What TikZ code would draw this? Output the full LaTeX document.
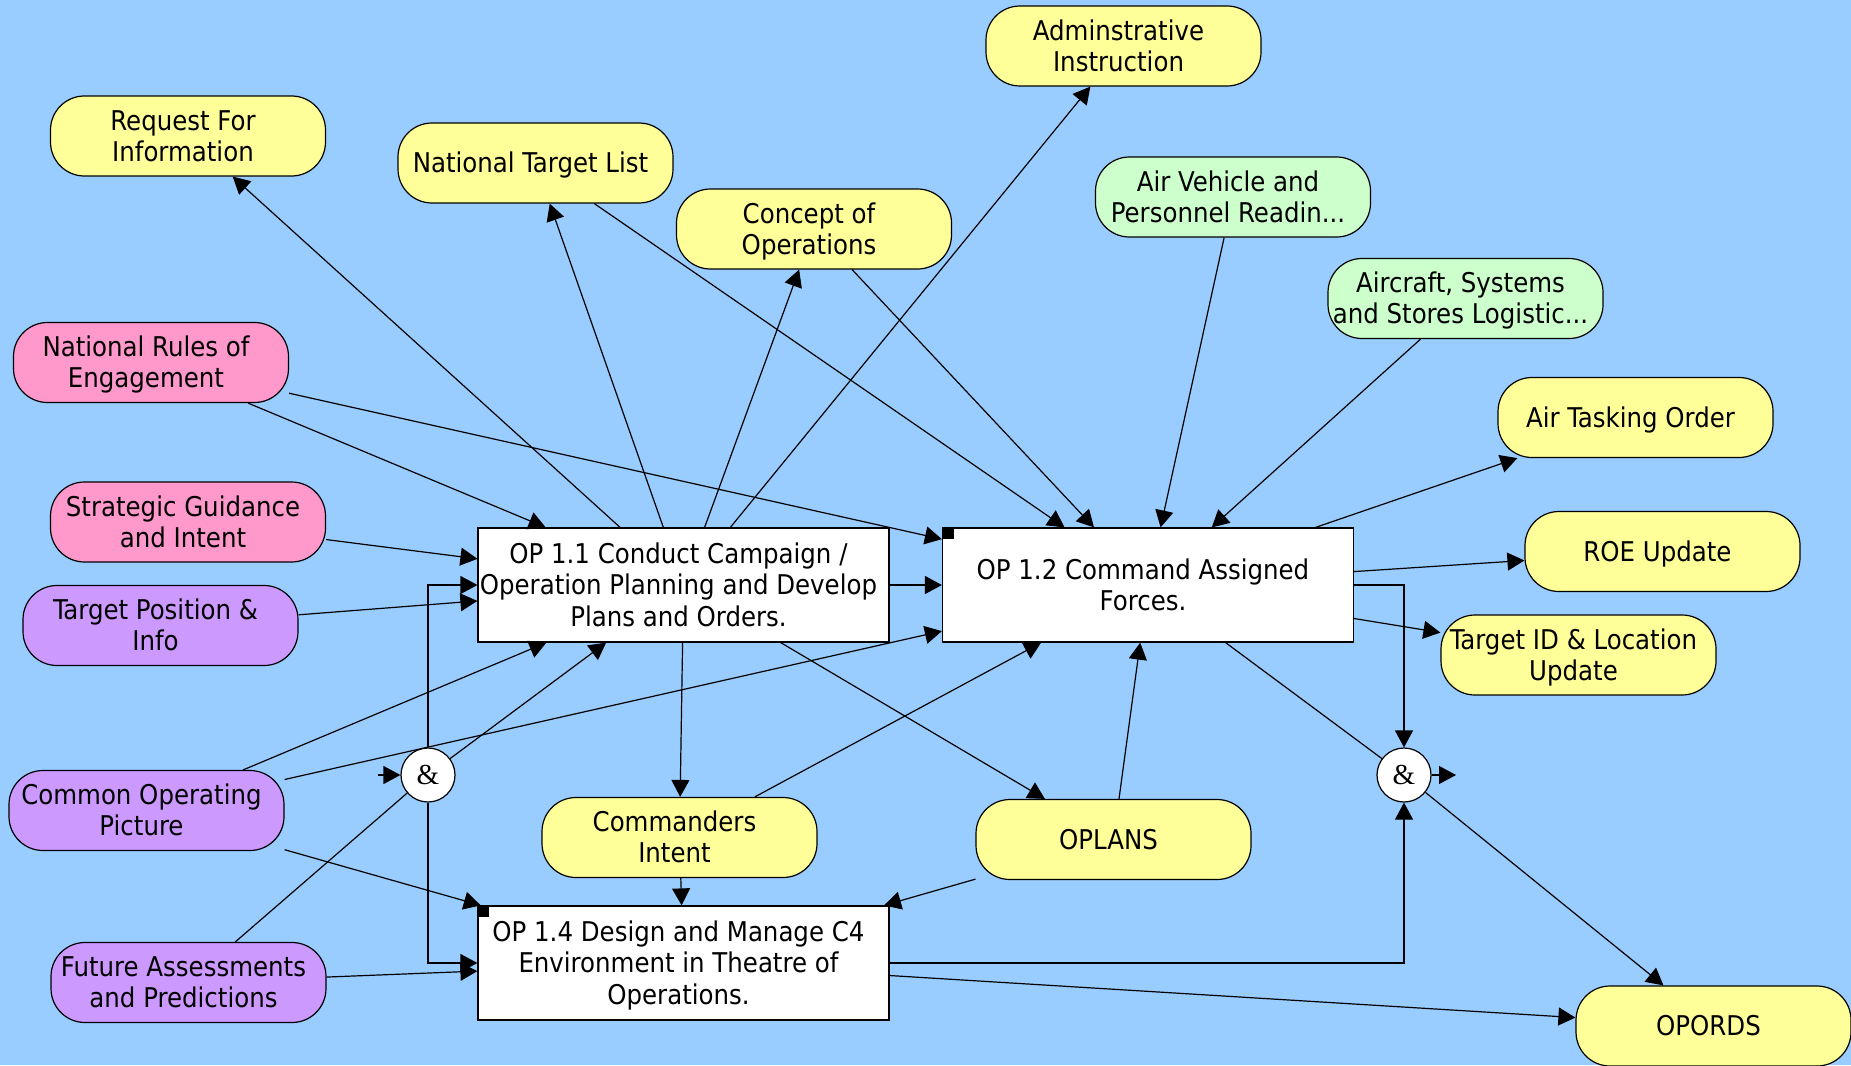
\documentclass[tikz,border=0pt]{standalone}
\usepackage{fontspec}
\setmainfont{DejaVu Sans Condensed}
\newfontfamily\ampfont{Liberation Serif}
\usetikzlibrary{arrows.meta}

\definecolor{canvas}{HTML}{99CCFF}
\definecolor{infoyellow}{HTML}{FFFF99}
\definecolor{infogreen}{HTML}{CCFFCC}
\definecolor{infopink}{HTML}{FF99CC}
\definecolor{infopurple}{HTML}{CC99FF}

% centred block of lines, nudged a little to the left and down
\newcommand\txtblock[1]{\hspace*{-5pt}%
  \raisebox{-1.8pt}[\height][\depth]{\begin{tabular}{@{}c@{}}#1\end{tabular}}}

\tikzset{
  tag/.style={draw=black, line width=0.6pt, rounded corners=17pt,
    minimum width=137.5pt, minimum height=40pt, inner sep=1pt,
    font=\fontsize{13.6pt}{15.6pt}\selectfont},
  yellowtag/.style={tag, fill=infoyellow},
  greentag/.style={tag, fill=infogreen},
  pinktag/.style={tag, fill=infopink},
  purpletag/.style={tag, fill=infopurple},
  activity/.style={draw=black, fill=white, line width=0.6pt,
    minimum width=205.5pt, minimum height=57pt, inner sep=1pt,
    font=\fontsize{13.6pt}{15.7pt}\selectfont},
  junction/.style={circle, draw=black, fill=white, line width=0.6pt,
    minimum size=27pt, inner sep=0pt, font=\ampfont\fontsize{14.5pt}{15pt}\selectfont},
  link/.style={line width=0.6pt, -{Triangle[length=8.5pt,width=9pt]}},
  plainlink/.style={line width=0.6pt},
}

\begin{document}
\begin{tikzpicture}[x=0.5pt,y=-0.5pt]
  % canvas
  \fill[canvas] (0,0) rectangle (1851,1065);
  \useasboundingbox (0,0) rectangle (1851,1065);

  % information elements
  \node[yellowtag] (admin)  at (1123.5,46)   {\txtblock{Adminstrative\\Instruction}};
  \node[yellowtag] (rfi)    at (188,136)     {\txtblock{Request For\\Information}};
  \node[yellowtag] (ntl)    at (535.5,163)   {\txtblock{National Target List}};
  \node[yellowtag] (coo)    at (814,229)     {\txtblock{Concept of\\Operations}};
  \node[greentag]  (avp)    at (1233,197)    {\txtblock{Air Vehicle and\\Personnel Readin...}};
  \node[greentag]  (asl)    at (1465.5,298.5){\txtblock{Aircraft, Systems\\and Stores Logistic...}};
  \node[pinktag]   (nroe)   at (151,362.5)   {\txtblock{National Rules of\\Engagement}};
  \node[yellowtag] (ato)    at (1635.5,417.5){\txtblock{Air Tasking Order}};
  \node[pinktag]   (sgi)    at (188,522)     {\txtblock{Strategic Guidance\\and Intent}};
  \node[yellowtag] (roe)    at (1662.5,551.5){\txtblock{ROE Update}};
  \node[purpletag] (tpi)    at (160.5,625.5) {\txtblock{Target Position \&\\Info}};
  \node[yellowtag] (tid)    at (1578.5,655)  {\txtblock{Target ID \& Location\\Update}};
  \node[purpletag] (cop)    at (146.5,810.5) {\txtblock{Common Operating\\Picture}};
  \node[yellowtag] (ci)     at (679.5,837.5) {\txtblock{Commanders\\Intent}};
  \node[yellowtag] (oplans) at (1113.5,839.5){\txtblock{OPLANS}};
  \node[purpletag] (fap)    at (188.5,982.5) {\txtblock{Future Assessments\\and Predictions}};
  \node[yellowtag] (opords) at (1713.5,1026) {\txtblock{OPORDS}};

  % activities
  \node[activity] (op11) at (683.5,585)
    {\txtblock{OP 1.1 Conduct Campaign /\\Operation Planning and Develop\\Plans and Orders.}};
  \node[activity] (op12) at (1148,585)
    {\txtblock{OP 1.2 Command Assigned\\Forces.}};
  \node[activity] (op14) at (683.5,963)
    {\txtblock{OP 1.4 Design and Manage C4\\Environment in Theatre of\\Operations.}};
  \fill[black] (op12.north west) rectangle ++(12,12);
  \fill[black] (op14.north west) rectangle ++(12,12);

  % junctions
  \node[junction] (andL) at (428,775)  {\&};
  \node[junction] (andR) at (1404,775) {\&};
  \coordinate (andLin)  at (378,775);
  \coordinate (andRout) at (1456,775);

  % flows into and out of OP 1.1
  \draw[link] (nroe) -- (op11);
  \draw[link] (sgi)  -- (op11);
  \draw[link] (tpi)  -- (op11);
  \draw[link] (cop)  -- (op11);
  \draw[link] (op11) -- (rfi);
  \draw[link] (op11) -- (ntl);
  \draw[link] (op11) -- (coo);
  \draw[link] (op11) -- (admin);
  \draw[link] (op11) -- (op12);
  \draw[link] (op11) -- (ci);
  \draw[link] (op11) -- (oplans);

  % flows into and out of OP 1.2
  \draw[link] (nroe)   -- (op12);
  \draw[link] (ntl)    -- (op12);
  \draw[link] (coo)    -- (op12);
  \draw[link] (avp)    -- (op12);
  \draw[link] (asl)    -- (op12);
  \draw[link] (cop)    -- (op12);
  \draw[link] (ci)     -- (op12);
  \draw[link] (oplans) -- (op12);
  \draw[link] (op12)   -- (ato);
  \draw[link] (op12)   -- (roe);
  \draw[link] (op12)   -- (tid);

  % flows into and out of OP 1.4
  \draw[link] (ci)     -- (op14);
  \draw[link] (oplans) -- (op14);
  \draw[link] (cop)    -- (op14);
  \draw[link] (fap)    -- (op14);
  \draw[link] (op14)   -- (opords);

  % left junction
  \draw[link] (andLin) -- (andL.west);
  \draw[plainlink] (fap) -- (andL);
  \draw[link] (andL) -- (op11);
  \draw[link] (andL.north) |- (op11.west);
  \draw[link] (andL.south) |- (op14.west);

  % right junction
  \draw[link] (op12.east) -| (andR.north);
  \draw[link] (op14.east) -| (andR.south);
  \draw[plainlink] (op12) -- (andR);
  \draw[link] (andR) -- (opords);
  \draw[link] (andR.east) -- (andRout);
\end{tikzpicture}
\end{document}
